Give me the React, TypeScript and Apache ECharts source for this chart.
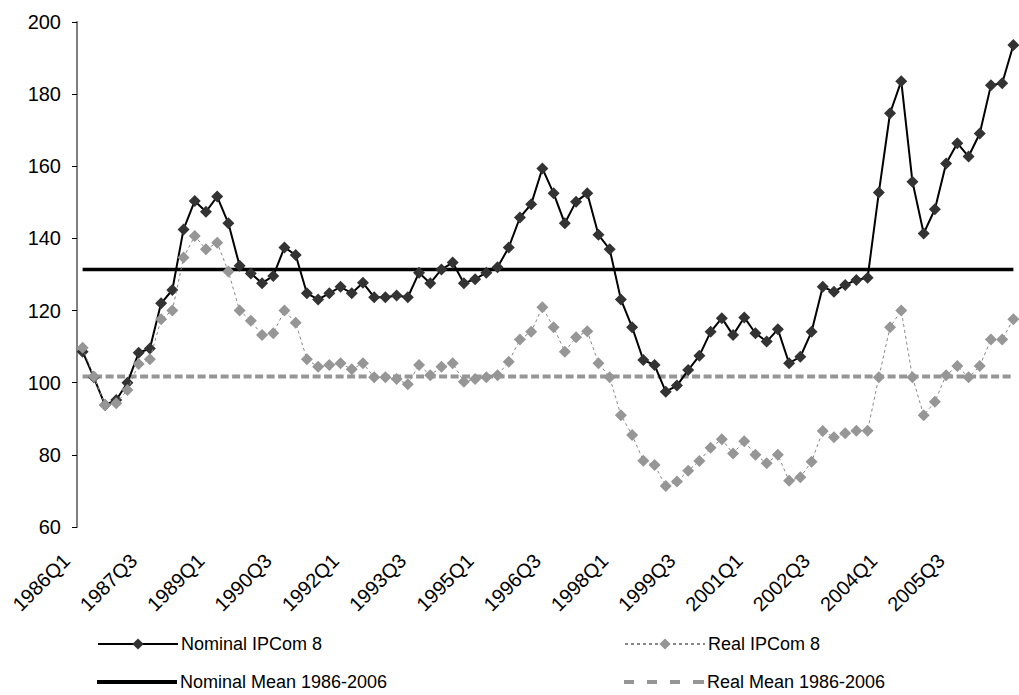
import React, { useEffect, useRef } from "react";
import * as echarts from "echarts";

const years: number[] = [];
for (let y = 1986; y <= 2006; y++) years.push(y);
const categories: string[] = [];
years.forEach((y) => [1, 2, 3, 4].forEach((q) => categories.push(`${y}Q${q}`)));

const nominalIPCom: number[] = [
  108.6, 101.5, 93.8, 95.2, 100, 108.3, 109.5, 122, 125.7, 142.5,
  150.4, 147.4, 151.6, 144.2, 132.4, 130.3, 127.6, 129.6, 137.5, 135.4,
  124.8, 123.1, 124.8, 126.6, 124.8, 127.7, 123.7, 123.7, 124.2, 123.7,
  130.5, 127.6, 131.4, 133.3, 127.6, 128.7, 130.5, 132, 137.5, 145.8,
  149.5, 159.4, 152.5, 144.2, 150.2, 152.5, 141, 137, 123.1, 115.4,
  106.3, 104.9, 97.5, 99.2, 103.5, 107.5, 114.1, 117.9, 113.2, 118.1,
  113.7, 111.4, 114.8, 105.4, 107.2, 114.1, 126.6, 125.2, 127.1, 128.5,
  129.1, 152.7, 174.7, 183.6, 155.7, 141.4, 148.1, 160.8, 166.4, 162.7,
  169.1, 182.5, 183, 193.6,
];

const realIPCom: number[] = [
  109.7, 101.7, 93.8, 94.3, 98, 105.2, 106.5, 117.6, 120, 134.7,
  140.7, 137, 138.8, 130.8, 120, 117.2, 113.2, 113.7, 120, 116.6,
  106.5, 104.4, 104.9, 105.4, 103.7, 105.4, 101.5, 101.5, 101, 99.6,
  104.9, 102.1, 104.4, 105.4, 100.3, 101, 101.5, 102.1, 105.8, 112,
  114.1, 120.9, 115.4, 108.6, 112.6, 114.3, 105.4, 101.5, 91, 85.5,
  78.4, 77.2, 71.4, 72.6, 75.6, 78.3, 82, 84.3, 80.4, 83.8,
  80, 77.7, 80, 72.8, 73.8, 78.1, 86.6, 84.9, 86, 86.7,
  86.7, 101.5, 115.4, 120, 101.5, 91, 94.7, 102.1, 104.6, 101.5,
  104.6, 112, 112, 117.6,
];

const nominalMean = 131.4;
const realMean = 101.7;

const yTicks = { min: 60, max: 200, interval: 20 };

const FONT = "Liberation Sans, Arial, sans-serif";

export default function App() {
  const ref = useRef<HTMLDivElement>(null);
  useEffect(() => {
    document.body.style.margin = "0";
    if (!ref.current) return;
    const chart = echarts.init(ref.current, undefined, { renderer: "svg" });
    const legendText = { color: "#000", fontSize: 18, fontFamily: FONT, padding: [0, 0, 0, -2] };
    const mkLegend = (name: string, left: number, top: number, extra: any = {}) => ({
      data: [name],
      left,
      top,
      itemWidth: 80,
      itemHeight: 14,
      itemGap: 4,
      padding: 0,
      textStyle: legendText,
      selectedMode: false,
      ...extra,
    });
    const dashIcon = "path://M0,0h10v4h-10z M23,0h10v4h-10z M46,0h10v4h-10z M69,0h11v4h-11z";
    chart.setOption({
      animation: false,
      backgroundColor: "#fff",
      textStyle: { fontFamily: FONT },
      grid: { left: 77, top: 22, bottom: 168, width: 945, containLabel: false },
      legend: [
        mkLegend("Nominal IPCom 8", 97, 635),
        mkLegend("Real IPCom 8", 624, 635),
        mkLegend("Nominal Mean 1986-2006", 97, 673, { icon: "rect", itemHeight: 4 }),
        mkLegend("Real Mean 1986-2006", 624, 673, { icon: dashIcon, itemHeight: 4 }),
      ],
      xAxis: {
        type: "category",
        data: categories,
        boundaryGap: true,
        axisLine: { show: false },
        axisTick: { show: false },
        axisLabel: {
          interval: 5,
          rotate: 45,
          color: "#000",
          fontSize: 20,
          fontFamily: FONT,
          margin: 14,
          padding: [0, 23, 0, 0],
        },
      },
      yAxis: {
        type: "value",
        min: yTicks.min,
        max: yTicks.max,
        interval: yTicks.interval,
        axisLine: { show: true, lineStyle: { color: "#808080", width: 2 } },
        axisTick: { show: true, length: 5, lineStyle: { color: "#000", width: 1 } },
        axisLabel: { color: "#000", fontSize: 20, fontFamily: FONT, margin: 16 },
        splitLine: { show: false },
      },
      series: [
        {
          name: "Nominal IPCom 8",
          type: "line",
          data: nominalIPCom,
          symbol: "diamond",
          symbolSize: 12,
          showAllSymbol: true,
          itemStyle: { color: "#333333" },
          lineStyle: { color: "#000", width: 2 },
          z: 3,
        },
        {
          name: "Real IPCom 8",
          type: "line",
          data: realIPCom,
          symbol: "diamond",
          symbolSize: 12,
          showAllSymbol: true,
          itemStyle: { color: "#969696" },
          lineStyle: { color: "#888888", width: 1, type: [3, 3] },
          z: 4,
        },
        {
          name: "Nominal Mean 1986-2006",
          type: "line",
          data: categories.map(() => nominalMean),
          symbol: "none",
          itemStyle: { color: "#000" },
          lineStyle: { color: "#000", width: 3.5 },
          z: 2,
        },
        {
          name: "Real Mean 1986-2006",
          type: "line",
          data: categories.map(() => realMean),
          symbol: "none",
          itemStyle: { color: "#969696" },
          lineStyle: { color: "#969696", width: 4, type: [8, 3.5] },
          z: 2,
        },
      ],
    });
    return () => chart.dispose();
  }, []);
  return <div ref={ref} style={{ width: 1019, height: 695 }} />;
}
